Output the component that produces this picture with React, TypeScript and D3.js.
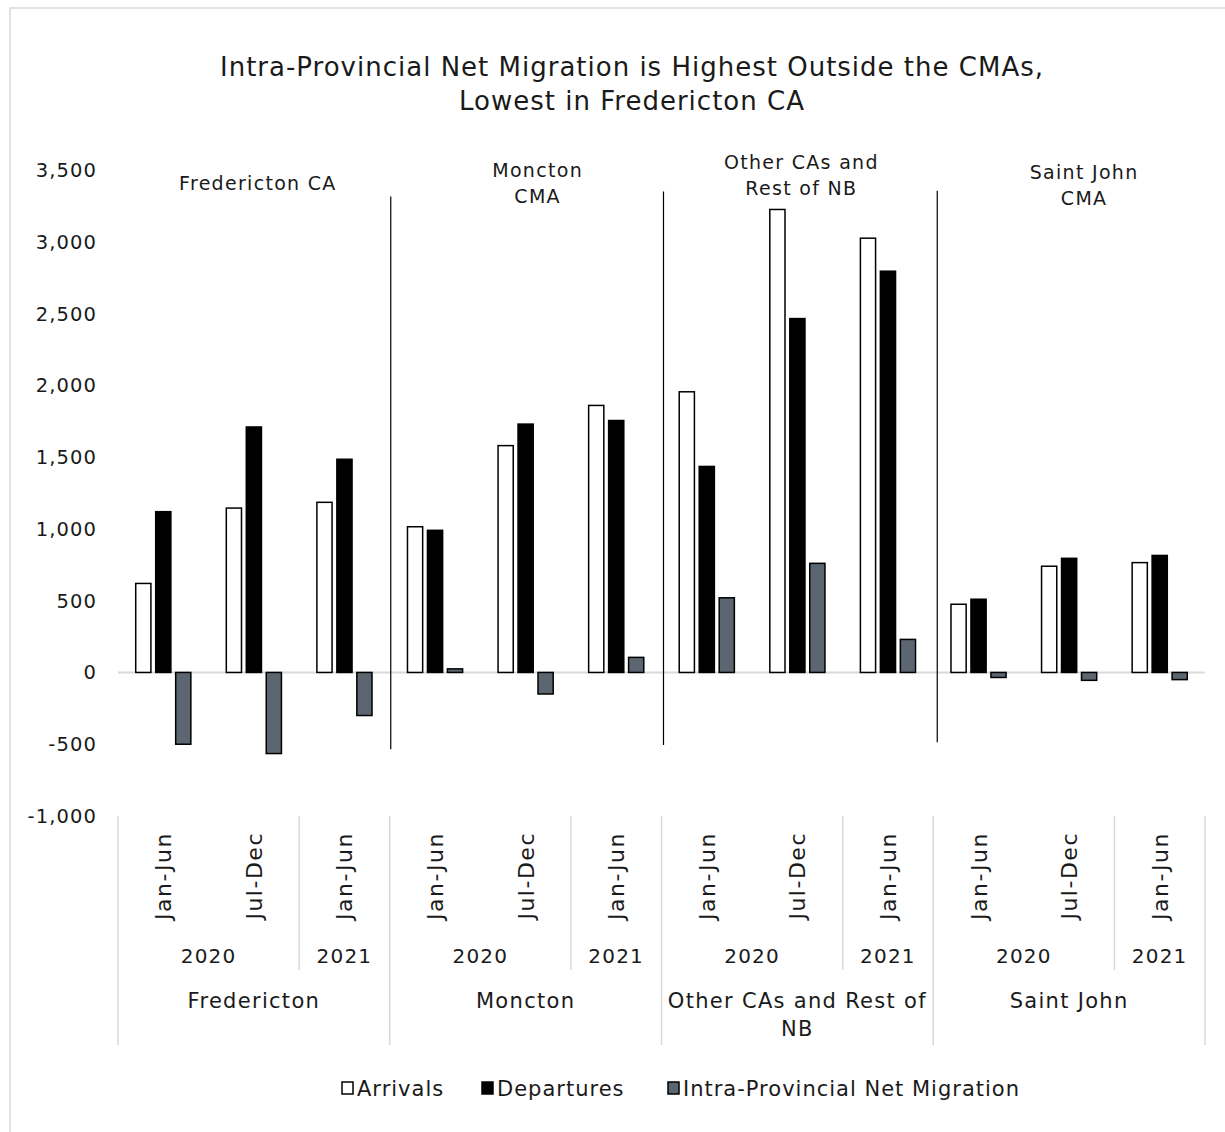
import React from "react";
import * as d3 from "d3";

const groups = ["Fredericton", "Moncton", "Other CAs and Rest of NB", "Saint John"];
const groupAxisLines = [["Fredericton"], ["Moncton"], ["Other CAs and Rest of", "NB"], ["Saint John"]];
const periods = ["Jan-Jun", "Jul-Dec", "Jan-Jun"];
const years = ["2020", "2021"];
const yearSpans = [2, 1];
const series = ["Arrivals", "Departures", "Intra-Provincial Net Migration"];
const arrivals = [620, 1145, 1185, 1015, 1580, 1860, 1955, 3225, 3025, 475, 740, 765];
const departures = [1120, 1710, 1485, 990, 1730, 1755, 1435, 2465, 2795, 510, 795, 815];
const netMigration = [-500, -565, -300, 25, -150, 105, 520, 760, 230, -35, -55, -50];
const yTicks = [-1000, -500, 0, 500, 1000, 1500, 2000, 2500, 3000, 3500];
const annotations = [["Fredericton CA"], ["Moncton", "CMA"], ["Other CAs and", "Rest of NB"], ["Saint John", "CMA"]];
const titleLines = ["Intra-Provincial Net Migration is Highest Outside the CMAs,", "Lowest in Fredericton CA"];

const FONT = "'DejaVu Sans', sans-serif";

export default function App() {
  const W = 1225, H = 1132;
  const left = 118, right = 1205;
  const y = d3.scaleLinear().domain([-1000, 3500]).range([816, 170]);
  const x0 = d3.scaleBand<string>().domain(groups).range([left, right]).padding(0);
  const x1 = d3.scaleBand<string>().domain(["0", "1", "2"]).range([0, x0.bandwidth()]).padding(0);
  const x2 = d3.scaleBand<string>().domain(series).range([0, x1.bandwidth()]).paddingInner(0.165).paddingOuter(0.85);
  const values = [arrivals, departures, netMigration];
  const fills = ["#ffffff", "#000000", "#5c6670"];
  const strokes = ["#000000", "#000000", "#000000"];
  const fmt = d3.format(",");
  const y0 = y(0);
  const axisTop = y(-1000);
  const axisBottom = 1045;
  const textColor = "#1a1a1a";

  const bars: React.ReactNode[] = [];
  groups.forEach((g, gi) => {
    for (let pi = 0; pi < 3; pi++) {
      const idx = gi * 3 + pi;
      series.forEach((s, si) => {
        const v = values[si][idx];
        const bx = (x0(g) as number) + (x1(String(pi)) as number) + (x2(s) as number);
        const top = Math.min(y(v), y0);
        const h = Math.abs(y(v) - y0);
        bars.push(
          <rect key={`${gi}-${pi}-${si}`} x={bx + 0.75} y={top} width={x2.bandwidth() - 1.5} height={h}
            fill={fills[si]} stroke={strokes[si]} strokeWidth={1.5} />
        );
      });
    }
  });

  const legendItems = [
    { x: 342, label: series[0] },
    { x: 482, label: series[1] },
    { x: 668, label: series[2] },
  ];

  return (
    <svg width={W} height={H} style={{ display: "block", position: "absolute", left: 0, top: 0 }} fontFamily={FONT}>
      <rect x={0} y={0} width={W} height={H} fill="#ffffff" />
      <rect x={10} y={8} width={W + 20} height={H + 20} fill="#ffffff" stroke="#d9d9d9" strokeWidth={1.5} />
      {titleLines.map((t, i) => (
        <text key={i} x={632} y={76 + i * 34} textAnchor="middle" fontSize={26} letterSpacing={1} fill={textColor}>{t}</text>
      ))}
      {yTicks.map((t) => (
        <text key={t} x={97} y={y(t) + 7} textAnchor="end" fontSize={19.5} letterSpacing={1.1} fill={textColor}>{fmt(t).replace("−", "-")}</text>
      ))}
      <line x1={left} x2={right} y1={y0} y2={y0} stroke="#d9d9d9" strokeWidth={2} />
      {bars}
      {groups.slice(1).map((g, i) => {
        const gx = (x0(g) as number) + [1, 2, 4][i];
        const tops = [3315, 3350, 3356];
        const bots = [-535, -505, -487];
        return <line key={g} x1={gx} x2={gx} y1={y(tops[i])} y2={y(bots[i])} stroke="#000" strokeWidth={1.2} />;
      })}
      {annotations.map((lines, gi) => {
        const cx = (x0(groups[gi]) as number) + x0.bandwidth() / 2 + [4, 12, 4, 15][gi];
        const ty = [190, 177, 169, 179][gi];
        return lines.map((l, li) => (
          <text key={`${gi}-${li}`} x={cx} y={ty + li * 26} textAnchor="middle" fontSize={19} letterSpacing={1.3} fill={textColor}>{l}</text>
        ));
      })}
      {groups.map((g, gi) => {
        const gx = x0(g) as number;
        const bw = x0.bandwidth();
        const els: React.ReactNode[] = [];
        periods.forEach((p, pi) => {
          const cx = gx + (x1(String(pi)) as number) + x1.bandwidth() / 2;
          els.push(
            <text key={`p${pi}`} transform={`translate(${cx + 8},${832}) rotate(-90)`} textAnchor="end" fontSize={22} letterSpacing={1.5} fill={textColor}>{p}</text>
          );
        });
        let acc = 0;
        years.forEach((yr, yi) => {
          const xs = gx + acc * x1.bandwidth();
          const w = yearSpans[yi] * x1.bandwidth();
          els.push(
            <text key={`y${yi}`} x={xs + w / 2} y={963} textAnchor="middle" fontSize={20} letterSpacing={1.2} fill={textColor}>{yr}</text>
          );
          if (yi > 0) {
            els.push(<line key={`yl${yi}`} x1={xs} x2={xs} y1={axisTop} y2={970} stroke="#d9d9d9" strokeWidth={1.5} />);
          }
          acc += yearSpans[yi];
        });
        groupAxisLines[gi].forEach((l, li) => {
          els.push(
            <text key={`g${li}`} x={gx + bw / 2} y={1008 + li * 28} textAnchor="middle" fontSize={21} letterSpacing={1.3} fill={textColor}>{l}</text>
          );
        });
        return <g key={g}>{els}</g>;
      })}
      {[...groups.map((g) => x0(g) as number), right].map((gx, i) => (
        <line key={`gl${i}`} x1={gx} x2={gx} y1={axisTop} y2={axisBottom} stroke="#d9d9d9" strokeWidth={1.5} />
      ))}
      {legendItems.map((it, i) => (
        <g key={i}>
          <rect x={it.x} y={1082} width={11} height={12} fill={fills[i]} stroke="#000" strokeWidth={1.5} />
          <text x={it.x + 15} y={1096} fontSize={21} letterSpacing={1} fill={textColor}>{it.label}</text>
        </g>
      ))}
    </svg>
  );
}
